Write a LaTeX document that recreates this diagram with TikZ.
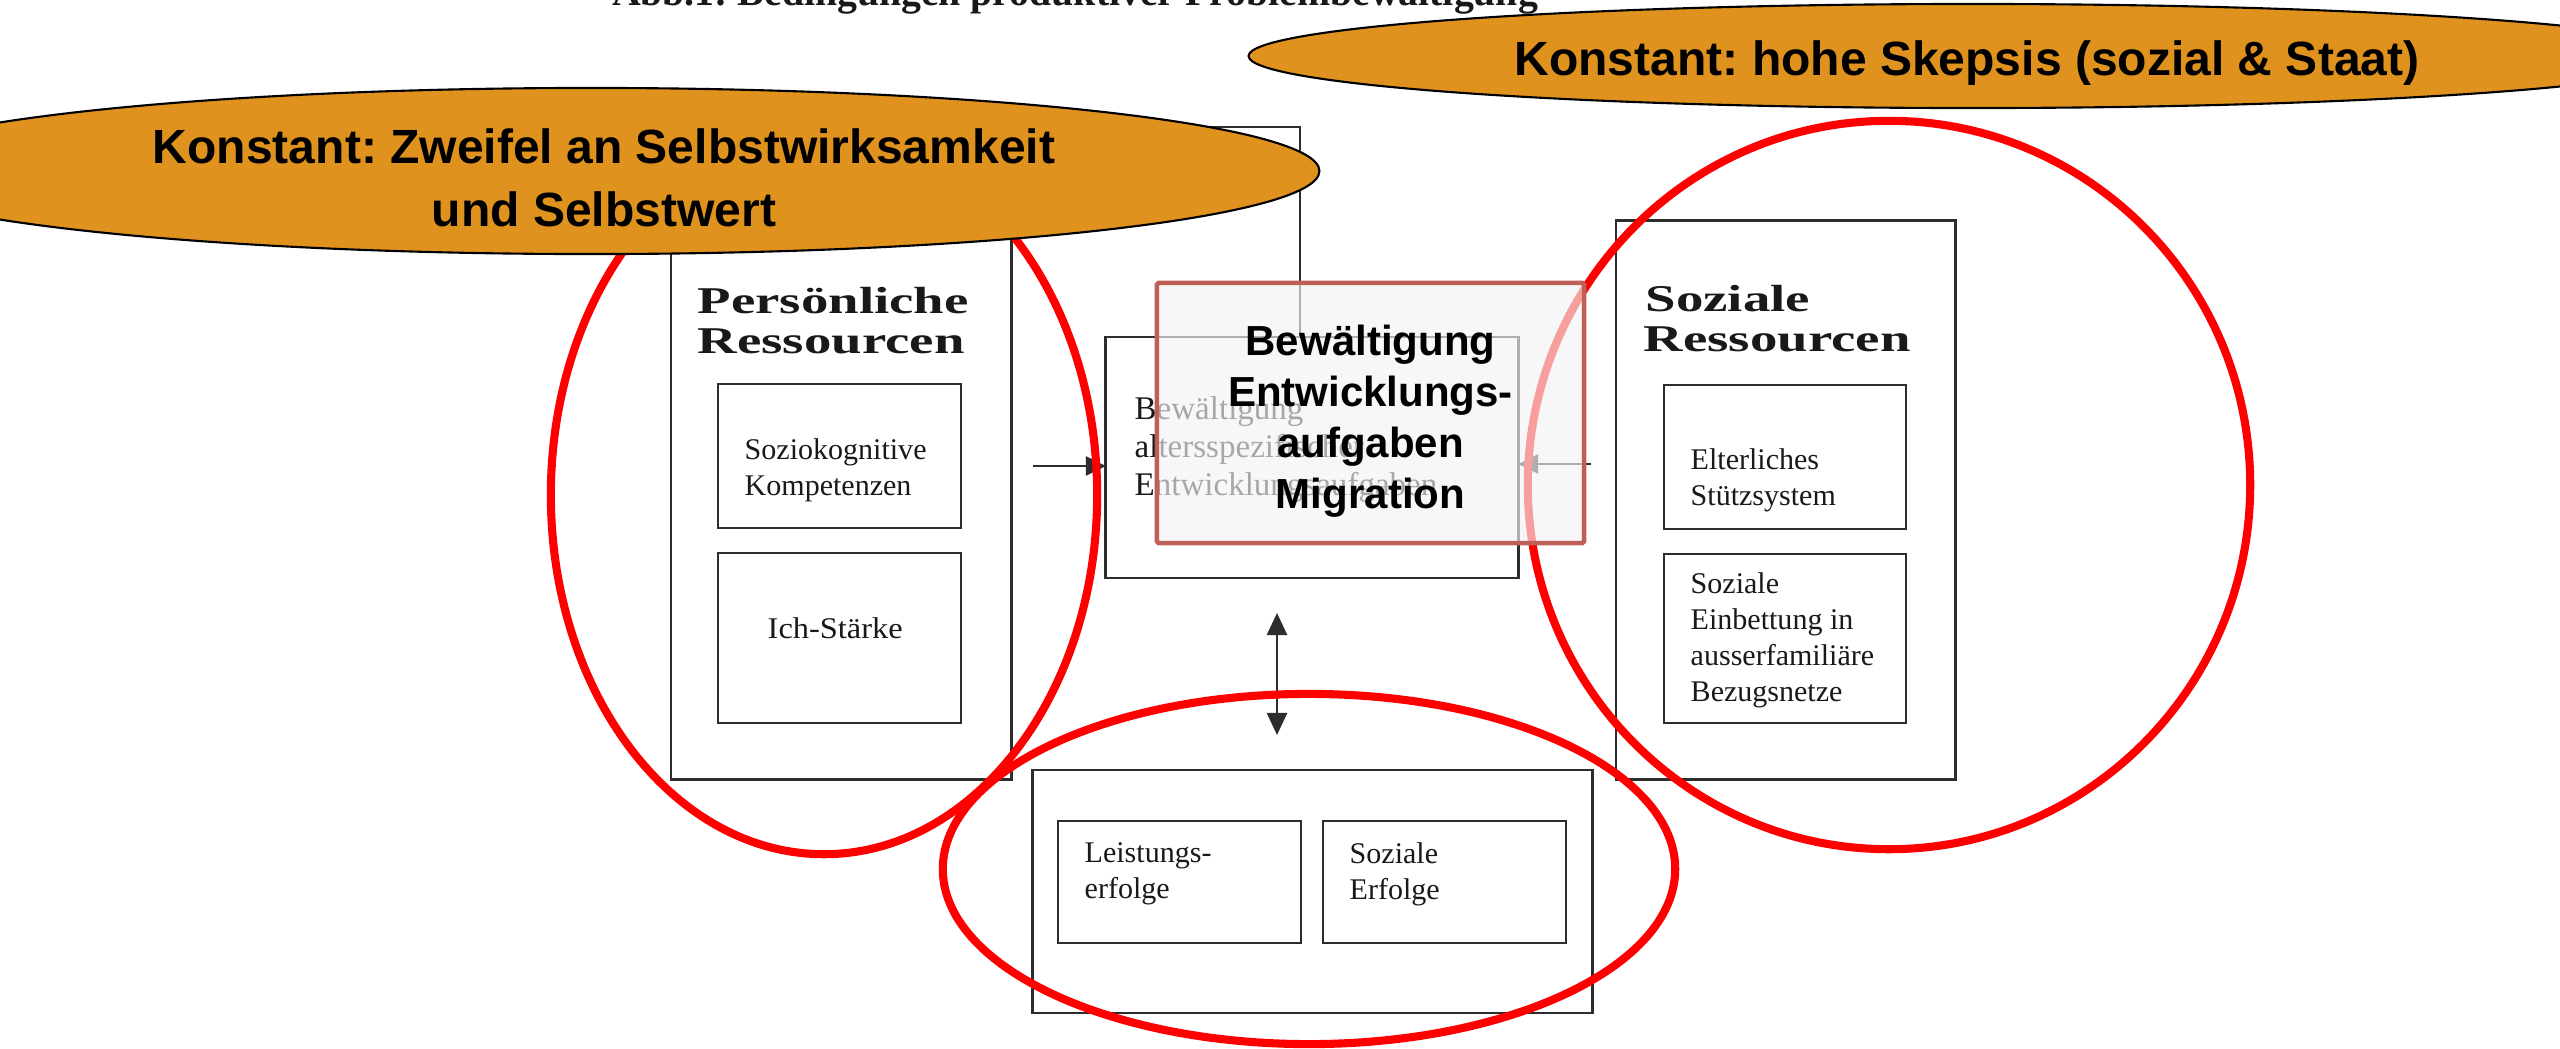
\documentclass[tikz,border=0pt]{standalone}
\usepackage{fontspec}
\setmainfont{Liberation Serif}
\newfontfamily\arialfont{Liberation Sans}
\usetikzlibrary{arrows.meta,shapes.geometric}
\definecolor{orangefill}{RGB}{223,146,30}
\definecolor{overlayborder}{RGB}{190,96,86}
\definecolor{overlayfill}{RGB}{244,244,244}
\definecolor{scanline}{RGB}{45,45,45}
\definecolor{scantext}{RGB}{25,25,25}
\newcommand{\wideb}[1]{\scalebox{1.45}[1]{#1}}
\frenchspacing
\begin{document}
\begin{tikzpicture}[x=0.01cm,y=-0.01cm,
  scanbox/.style={draw=scanline,line width=0.8pt,inner sep=0pt,outer sep=0pt},
  scanline/.style={draw=scanline,line width=0.7pt},
  titletext/.style={inner sep=0pt,text=scantext,font=\fontsize{10.75}{11.4}\selectfont\bfseries},
  smalltext/.style={inner sep=0pt,anchor=west,align=left,text=scantext,font=\fontsize{8.54}{10.24}\selectfont},
  midtext/.style={inner sep=0pt,anchor=west,align=left,text=scantext,font=\fontsize{9.39}{10.8}\selectfont},
  redell/.style={ellipse,draw=red,line width=2.3pt,inner sep=0pt},
  orangeell/.style={ellipse,draw=black,line width=0.6pt,fill=orangefill,inner sep=0pt},
  orangetext/.style={inner sep=0pt,align=center,font=\arialfont\bfseries\fontsize{13.66}{17.9}\selectfont},
  overlaybox/.style={draw=overlayborder,line width=1.3pt,fill=overlayfill,fill opacity=0.65,
    rounded corners=0.5pt,inner sep=0pt},
  overlaytext/.style={inner sep=0pt,align=center,font=\arialfont\bfseries\fontsize{11.95}{14.5}\selectfont},
  tip/.style={-{Triangle[length=0.2cm,width=0.19cm]}},
  dtip/.style={{Triangle[length=0.22cm,width=0.2cm]}-{Triangle[length=0.22cm,width=0.2cm]}}
]
\useasboundingbox (0,0) rectangle (2560,1048);
\clip (0,0) rectangle (2560,1048);
\fill[white] (0,0) rectangle (2560,1048);

% title of the scanned figure (cut at the top edge)
\node[anchor=base,inner sep=0pt,text=scantext,font=\fontsize{11.3}{13}\selectfont\bfseries] (title) at (1075,5)
  {Abb.1: Bedingungen produktiver Problembewältigung};

% scanned diagram
\node[scanbox,minimum width=3.40cm,minimum height=5.58cm] (pers) at (841,500) {};
\node[titletext,anchor=base west] (perst1) at (697,313) {\wideb{Persönliche}};
\node[titletext,anchor=base west] (perst2) at (697,353) {\wideb{Ressourcen}};
\node[scanbox,minimum width=2.43cm,minimum height=1.44cm] (pk) at (839.5,456) {};
\node[smalltext] (pktext) at (744,470) {Soziokognitive\\Kompetenzen};
\node[scanbox,minimum width=2.43cm,minimum height=1.70cm] (pi) at (839.5,638) {};
\node[smalltext] (pitext) at (767,628) {\scalebox{1.08}[1]{Ich-Stärke}};

\node[scanbox,minimum width=3.39cm,minimum height=5.58cm] (soz) at (1785.5,500) {};
\node[titletext,anchor=base west] (sozt1) at (1645,311) {\wideb{Soziale}};
\node[titletext,anchor=base west] (sozt2) at (1643,351) {\wideb{Ressourcen}};
\node[scanbox,minimum width=2.42cm,minimum height=1.44cm] (se) at (1785,457) {};
\node[smalltext] (setext) at (1690,480) {Elterliches\\Stützsystem};
\node[scanbox,minimum width=2.42cm,minimum height=1.69cm] (sb) at (1785,638.5) {};
\node[smalltext] (sbtext) at (1690,640) {Soziale\\Einbettung in\\ausserfamiliäre\\Bezugsnetze};

\node[scanbox,minimum width=4.12cm,minimum height=2.41cm] (cbox) at (1312,457.5) {};
\node[midtext] (ctext) at (1134,450) {Bewältigung\\altersspezifischer\\Entwicklungsaufgaben};

\node[scanbox,minimum width=5.59cm,minimum height=2.43cm] (bbox) at (1312.5,891.5) {};
\node[scanbox,minimum width=2.43cm,minimum height=1.22cm] (bl) at (1179.5,882) {};
\node[smalltext] (bltext) at (1084,874) {Leistungs-\\erfolge};
\node[scanbox,minimum width=2.43cm,minimum height=1.22cm] (br) at (1444.5,882) {};
\node[smalltext] (brtext) at (1349,874) {Soziale\\Erfolge};

% connectors of the scanned diagram
\coordinate (la) at (1033,466);
\coordinate (ra) at (1591,464);
\coordinate (da1) at (1277,613);
\coordinate (da2) at (1277,735);
\coordinate (tl) at (1150,127);
\draw[scanline,tip] (la) -- (la -| cbox.west);
\draw[scanline,tip] (ra) -- (ra -| cbox.east);
\draw[scanline,dtip] (da1) -- (da2);
\draw[scanline] (tl) -| ([xshift=-0.12cm]cbox.north);

% red ellipses
\node[redell,minimum width=5.46cm,minimum height=7.18cm] (r1) at (824,495) {};
\node[redell,minimum width=7.22cm,minimum height=7.28cm] (r2) at (1889,485) {};
\node[redell,minimum width=7.32cm,minimum height=3.50cm] (r3) at (1309,869) {};

% overlay box
\node[overlaybox,minimum width=4.27cm,minimum height=2.60cm] (ov) at (1370.5,413) {};
\node[overlaytext] (ovtext) at (1370.5,421) {Bewältigung\\Entwicklungs-\\aufgaben\\Migration};

% orange ellipses
\node[orangeell,minimum width=14.56cm,minimum height=1.66cm] (e1) at (591,171) {};
\node[orangetext] (e1text) at (604,178) {Konstant: Zweifel an Selbstwirksamkeit\\und Selbstwert};
\node[orangeell,minimum width=14.48cm,minimum height=1.04cm] (e2) at (1973,56) {};
\node[orangetext] (e2text) at (1967,63) {Konstant: hohe Skepsis (sozial \& Staat)};
\end{tikzpicture}
\end{document}
